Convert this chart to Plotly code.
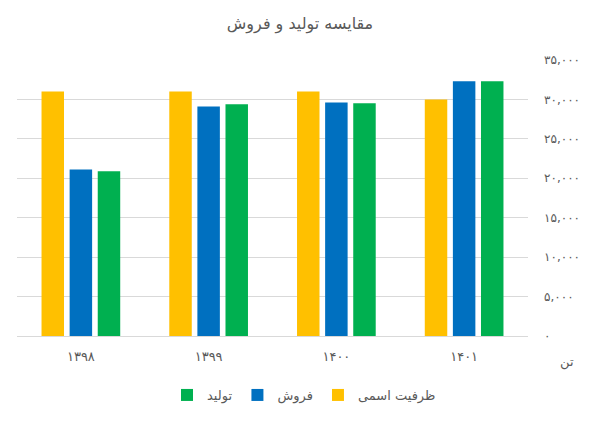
import plotly.graph_objects as go

categories = ["۱۳۹۸", "۱۳۹۹", "۱۴۰۰", "۱۴۰۱"]
capacity = [31000, 31000, 31000, 30000]
sales = [21100, 29100, 29600, 32300]
production = [20900, 29400, 29500, 32300]
series_names = ["ظرفیت اسمی", "فروش", "تولید"]
tick_vals = [0, 5000, 10000, 15000, 20000, 25000, 30000, 35000]
tick_text = ["۰", "۵,۰۰۰", "۱۰,۰۰۰", "۱۵,۰۰۰", "۲۰,۰۰۰", "۲۵,۰۰۰", "۳۰,۰۰۰", "۳۵,۰۰۰"]

FONT = "DejaVu Sans"
GRAY = "#595959"

W, H = 600, 421
OFF = 8  # page body margin
plot_left, plot_right, plot_top, plot_bottom = 17 - OFF, 528 - OFF, 60 - OFF, 336 - OFF
plot_h = plot_bottom - plot_top
plot_w = plot_right - plot_left

fig = go.Figure()
for name, vals, color in zip(series_names, [capacity, sales, production],
                             ["#FFC000", "#0070C0", "#00B050"]):
    fig.add_trace(go.Bar(x=categories, y=vals, name=name, marker_color=color,
                         marker_line_width=0))

fig.update_layout(
    width=W, height=H,
    margin=dict(l=plot_left, r=W - plot_right, t=plot_top, b=H - plot_bottom),
    paper_bgcolor="white", plot_bgcolor="white",
    barmode="group", bargap=0.34, bargroupgap=0.2,
    font=dict(family=FONT, color=GRAY, size=12),
    title=dict(text="مقایسه تولید و فروش", x=(300 - OFF) / W, xanchor="center",
               y=1 - (23 - OFF) / H, yanchor="middle",
               font=dict(family=FONT, size=16, color=GRAY)),
    showlegend=True,
    legend=dict(orientation="h", traceorder="reversed",
                x=(304 - OFF - plot_left) / plot_w, xanchor="center",
                y=-(395 - 336) / plot_h, yanchor="middle",
                font=dict(family=FONT, size=13, color=GRAY),
                itemwidth=30),
    xaxis=dict(showgrid=False, showline=True, linecolor="#D9D9D9", ticks="",
               ticklabelstandoff=8,
               tickfont=dict(family=FONT, size=13, color=GRAY)),
    yaxis=dict(side="right", range=[0, 35000], tickvals=tick_vals, ticktext=tick_text,
               showgrid=True, gridcolor="#D9D9D9", gridwidth=1, zeroline=False,
               showline=False, ticks="", ticklabelstandoff=15,
               tickfont=dict(family=FONT, size=12, color=GRAY)),
)

fig.add_annotation(text="تن", xref="paper", yref="paper",
                   x=1.0 + (567 - 528) / plot_w, y=-(362 - 336) / plot_h,
                   xanchor="center", yanchor="middle", showarrow=False,
                   font=dict(family=FONT, size=13, color=GRAY))

fig.write_html("out.html")
